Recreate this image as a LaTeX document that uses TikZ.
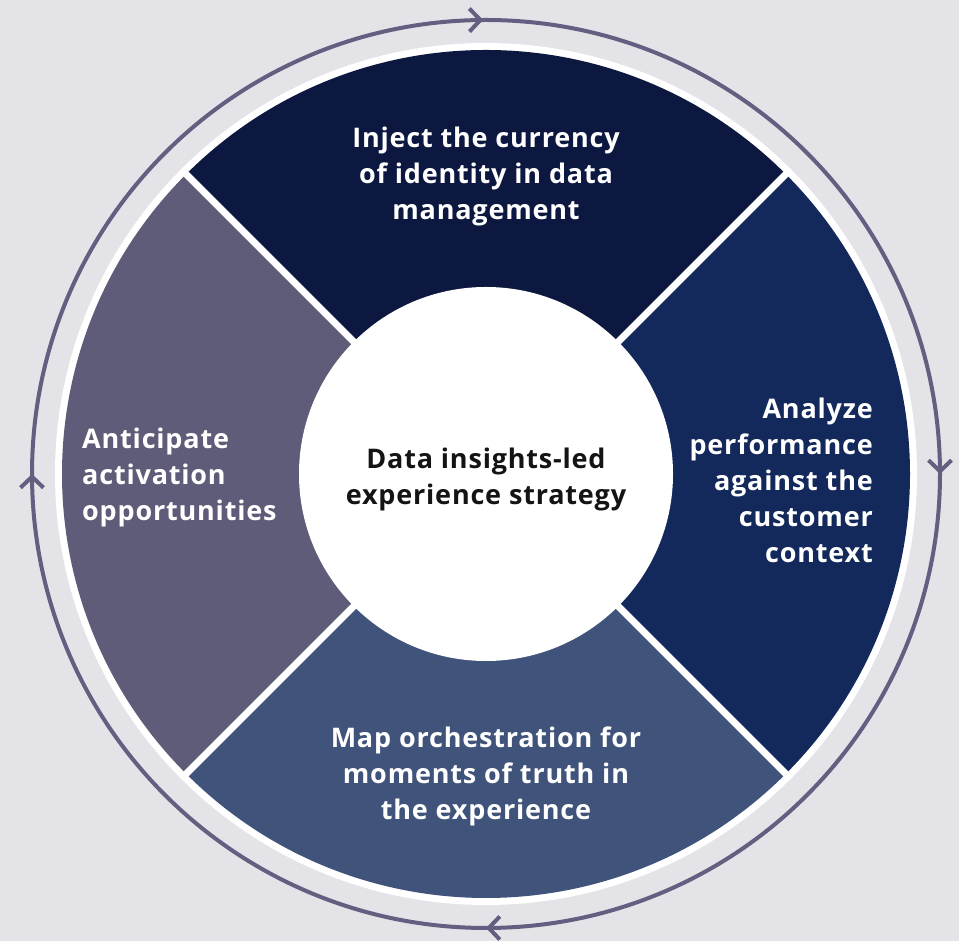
\documentclass[tikz,border=0pt]{standalone}
\usepackage{fontspec}
\setmainfont{Open Sans}[LetterSpace=3]
\usetikzlibrary{decorations.markings,arrows.meta}

\definecolor{bgcol}{HTML}{E4E3E8}
\definecolor{ringcol}{HTML}{625F80}
\definecolor{topcol}{HTML}{0C1840}
\definecolor{rightcol}{HTML}{13285B}
\definecolor{bottomcol}{HTML}{40537A}
\definecolor{leftcol}{HTML}{5E5C78}
\definecolor{hubtext}{HTML}{141414}

\begin{document}
\begin{tikzpicture}[x=1pt,y=1pt,
    lbl/.style={text=white, font=\bfseries\fontsize{27}{36}\selectfont, inner sep=0pt},
    gap/.style={draw=white, line width=7pt},
    chev/.style={postaction={decorate}, decoration={markings,
        mark=at position 0.25 with {\arrow{Straight Barb[length=11pt,width=23pt]}},
        mark=at position 0.5 with {\arrow{Straight Barb[length=11pt,width=23pt]}},
        mark=at position 0.75 with {\arrow{Straight Barb[length=11pt,width=23pt]}},
        mark=at position 0.999 with {\arrow{Straight Barb[length=11pt,width=23pt]}}}}]

    \fill[bgcol] (0,0) rectangle (959,941);
    \coordinate (c) at (486,467);

    \draw[ringcol, line width=4pt, chev] ([shift={(90:454pt)}]c) arc[start angle=90, end angle=-270, radius=454pt];

    \fill[white] (c) circle[radius=431pt];
    \fill[topcol] (c) -- ++(45:424pt) arc[start angle=45, end angle=135, radius=424pt] -- cycle;
    \fill[leftcol] (c) -- ++(135:424pt) arc[start angle=135, end angle=225, radius=424pt] -- cycle;
    \fill[bottomcol] (c) -- ++(225:424pt) arc[start angle=225, end angle=315, radius=424pt] -- cycle;
    \fill[rightcol] (c) -- ++(-45:424pt) arc[start angle=-45, end angle=45, radius=424pt] -- cycle;
    \foreach \a in {45,135,225,315}
        \draw[gap] (c) -- ++(\a:431pt);
    \fill[white] (c) circle[radius=187pt];

    \node[lbl, align=center] (inject) at (486,765) {Inject the currency\\of identity in data\\management};
    \node[lbl, align=right, anchor=east] (analyze) at (873,461) {Analyze\\performance\\against the\\customer\\context};
    \node[lbl, align=center] (map) at (486,165) {Map orchestration for\\moments of truth in\\the experience};
    \node[lbl, align=left, anchor=west] (anticipate) at (82,464) {Anticipate\\activation\\opportunities};
    \node[lbl, text=hubtext, align=center] (hub) at (486,462) {Data insights-led\\experience strategy};
\end{tikzpicture}
\end{document}
